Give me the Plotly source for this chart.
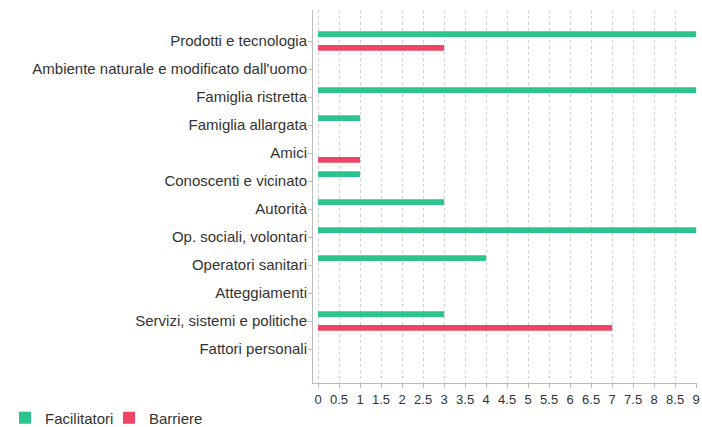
import plotly.graph_objects as go

categories = [
    "Prodotti e tecnologia",
    "Ambiente naturale e modificato dall'uomo",
    "Famiglia ristretta",
    "Famiglia allargata",
    "Amici",
    "Conoscenti e vicinato",
    "Autorità",
    "Op. sociali, volontari",
    "Operatori sanitari",
    "Atteggiamenti",
    "Servizi, sistemi e politiche",
    "Fattori personali",
]
facilitatori = [9, 0, 9, 1, 0, 1, 3, 9, 4, 0, 3, 0]
barriere = [3, 0, 0, 0, 1, 0, 0, 0, 0, 0, 7, 0]
x_ticks = [i * 0.5 for i in range(19)]
x_tick_labels = ["0", "0.5", "1", "1.5", "2", "2.5", "3", "3.5", "4", "4.5",
                 "5", "5.5", "6", "6.5", "7", "7.5", "8", "8.5", "9"]

font_family = "Liberation Sans, Arial, sans-serif"

fig = go.Figure()
fig.add_trace(go.Bar(y=categories, x=facilitatori, orientation="h",
                     name="Facilitatori", marker_color="#2BC48A",
                     marker_line_width=0, legend="legend"))
fig.add_trace(go.Bar(y=categories, x=barriere, orientation="h",
                     name="Barriere", marker_color="#EE4466",
                     marker_line_width=0, legend="legend2"))

legend_common = dict(orientation="h", xref="container", yref="container",
                     xanchor="left", y=(427 - 418) / 427, yanchor="middle",
                     font=dict(size=15, color="#333333"), itemwidth=30,
                     bgcolor="rgba(0,0,0,0)")

fig.update_layout(
    width=702, height=427,
    margin=dict(l=313, r=5, t=10, b=44),
    paper_bgcolor="white", plot_bgcolor="white",
    barmode="group", bargap=0.03, bargroupgap=0.58,
    font=dict(family=font_family, size=15, color="#333333"),
    legend=dict(x=5 / 702, **legend_common),
    legend2=dict(x=109 / 702, **legend_common),
    showlegend=True,
)
fig.update_xaxes(
    range=[-0.12, 9.02], automargin=False,
    tickmode="array", tickvals=x_ticks, ticktext=x_tick_labels,
    showgrid=True, gridcolor="#CFCFCF", griddash="dot", gridwidth=1,
    zeroline=False,
    showline=True, linecolor="#BBBBBB", linewidth=1,
    ticks="outside", ticklen=4, tickcolor="#BBBBBB",
    tickfont=dict(size=13, color="#333333"),
)
fig.update_yaxes(
    range=[12.214, -1.107], automargin=False,
    showgrid=False, zeroline=False,
    showline=True, linecolor="#BBBBBB", linewidth=1,
    ticks="outside", ticklen=4, tickcolor="#BBBBBB",
    tickfont=dict(size=15, color="#333333"),
    ticklabelstandoff=-2,
)

fig.write_html("out.html",
               config={"displayModeBar": False},
               post_script="document.body.style.margin='0';")
